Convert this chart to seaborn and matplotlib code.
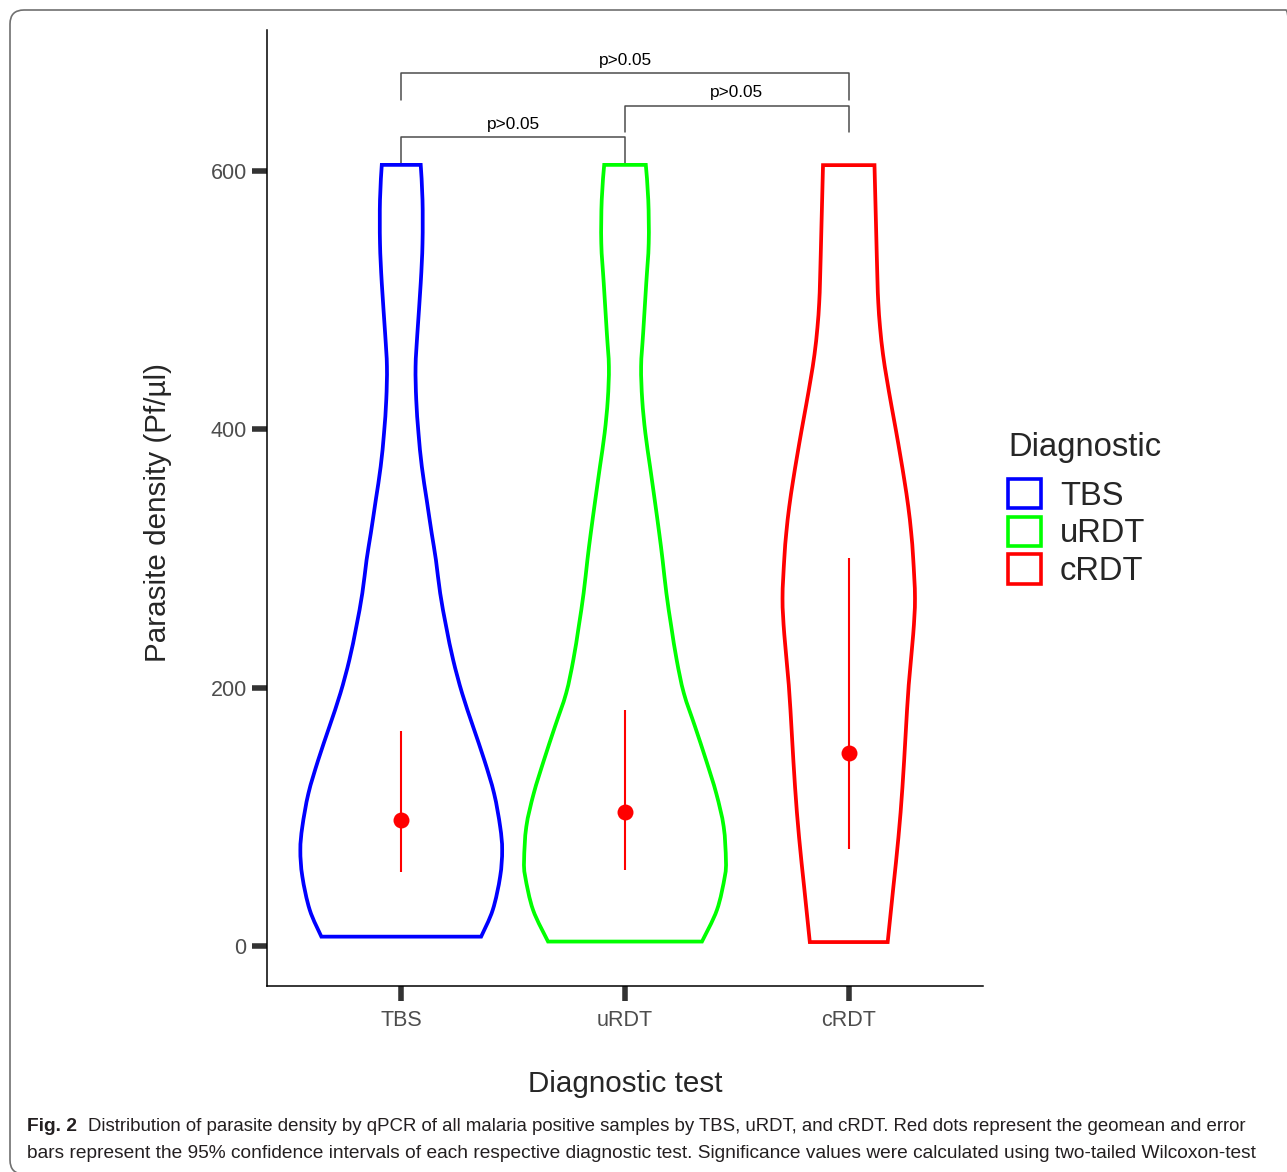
import seaborn as sns
import matplotlib.pyplot as plt
from matplotlib.patches import Patch, FancyBboxPatch, PathPatch
from matplotlib.path import Path
from matplotlib.transforms import IdentityTransform

groups = ["TBS", "uRDT", "cRDT"]
palette = {"TBS": "#0000FF", "uRDT": "#00FF00", "cRDT": "#FF0000"}

# violin outlines: parasite density and half width (category units)
tbs_y = [604.6, 577.5, 544, 513, 474, 448.5, 422.7, 397, 371, 345, 319.5, 298.8,
         273, 247, 221.4, 195.6, 169.8, 144, 118, 92.4, 74.3, 53.7, 27.9, 7.2]
tbs_w = [0.087, 0.095, 0.095, 0.087, 0.072, 0.064, 0.067, 0.077, 0.092, 0.114, 0.136, 0.155,
         0.174, 0.201, 0.232, 0.272, 0.321, 0.371, 0.415, 0.442, 0.451, 0.442, 0.409, 0.357]
urdt_y = [604.6, 577.5, 544, 513, 474, 448.5, 422.7, 397, 371, 345, 319.5, 298.8,
          273, 247, 221.4, 195.6, 169.8, 144, 118, 92.4, 66.6, 53.7, 27.9, 3.4]
urdt_w = [0.093, 0.104, 0.106, 0.095, 0.081, 0.072, 0.077, 0.091, 0.112, 0.133, 0.153, 0.168,
          0.185, 0.207, 0.231, 0.263, 0.313, 0.362, 0.408, 0.441, 0.451, 0.446, 0.411, 0.344]
crdt_y = [604.4, 557, 517, 498, 478.6, 458, 439, 419, 399, 379, 360, 340, 320, 300,
          269, 241, 202, 163, 123, 84, 45, 3]
crdt_w = [0.115, 0.122, 0.128, 0.132, 0.140, 0.153, 0.170, 0.190, 0.211, 0.231, 0.249, 0.266,
          0.279, 0.288, 0.296, 0.288, 0.268, 0.254, 0.240, 0.222, 0.199, 0.174]

# geometric mean and 95% CI
geomean = [97.5, 103.7, 149.4]
ci_low = [57.3, 58.6, 74.7]
ci_high = [166.6, 182.9, 300.4]

# significance comparisons (left group, right group, label)
comparisons = [(0, 1, "p>0.05"), (1, 2, "p>0.05"), (0, 2, "p>0.05")]
bracket_y = [626, 650.5, 675.6]
tip_bottom = [606, 630.4, 655]

W, H = 1287, 1172
sns.set_style("ticks")
plt.rcParams["font.family"] = ["Liberation Sans", "DejaVu Sans"]

fig = plt.figure(figsize=(W / 100, H / 100), dpi=100)
ax = fig.add_axes([267 / W, 1 - 986 / H, (983 - 267) / W, (986 - 30) / H])


def smooth_side(pts):
    # cubic bezier (catmull-rom) through the read outline points
    verts, codes = [], []
    n = len(pts)
    for i in range(n - 1):
        p0 = pts[max(i - 1, 0)]
        p1, p2 = pts[i], pts[i + 1]
        p3 = pts[min(i + 2, n - 1)]
        c1 = (p1[0] + (p2[0] - p0[0]) / 6, p1[1] + (p2[1] - p0[1]) / 6)
        c2 = (p2[0] - (p3[0] - p1[0]) / 6, p2[1] - (p3[1] - p1[1]) / 6)
        verts += [c1, c2, p2]
        codes += [Path.CURVE4] * 3
    return verts, codes


profiles = {"TBS": (tbs_y, tbs_w), "uRDT": (urdt_y, urdt_w), "cRDT": (crdt_y, crdt_w)}
for i, g in enumerate(groups):
    ys, ws = profiles[g]
    left = [(i - w, y) for y, w in zip(ys, ws)]
    right = [(i + w, y) for y, w in reversed(list(zip(ys, ws)))]
    verts, codes = [left[0]], [Path.MOVETO]
    v, c = smooth_side(left)
    verts += v
    codes += c
    verts.append(right[0])
    codes.append(Path.LINETO)
    v, c = smooth_side(right)
    verts += v
    codes += c
    verts.append(left[0])
    codes.append(Path.CLOSEPOLY)
    ax.add_patch(PathPatch(Path(verts, codes), fill=False, edgecolor=palette[g],
                           lw=2.7, joinstyle="miter", zorder=3))

ax.vlines(range(3), ci_low, ci_high, color="#FF0000", lw=1.5, zorder=4)
sns.scatterplot(x=list(range(3)), y=geomean, color="#FF0000", s=132, linewidth=0,
                zorder=5, legend=False, ax=ax)

for (a, b, lab), yb, yt in zip(comparisons, bracket_y, tip_bottom):
    ax.plot([a, a, b, b], [yt, yb, yb, yt], color="#4D4D4D", lw=1.1, clip_on=False)
    ax.text((a + b) / 2, yb + 6.4, lab, ha="center", va="baseline", fontsize=12.4,
            color="black")

ax.set_xlim(-0.6, 2.6)
ax.set_ylim(-31, 709)
ax.set_xticks(range(3))
ax.set_xticklabels(groups)
ax.set_yticks([0, 200, 400, 600])
sns.despine(ax=ax)
for s in ["left", "bottom"]:
    ax.spines[s].set_linewidth(1.1)
    ax.spines[s].set_color("black")
ax.tick_params(axis="both", length=11, width=4, color="#333333",
               labelcolor="#4D4D4D", labelsize=15.5)
ax.tick_params(axis="x", pad=6)
ax.tick_params(axis="y", pad=3.6)

ax.set_xlabel("Diagnostic test", fontsize=21.3, va="baseline")
ax.xaxis.set_label_coords(0.5, (986 - 1092) / 956)
ax.set_ylabel("Parasite density (Pf/µl)", fontsize=21.3)
ax.yaxis.set_label_coords((172 - 267) / 716, (986 - 512) / 956)

# legend: title as its own text, keys below
fig.text(1008 / W, 1 - 447 / H, "Diagnostic", fontsize=23.6, ha="left", va="center")
handles = [Patch(facecolor="white", edgecolor=palette[g], linewidth=2.6, label=g)
           for g in groups]
fig.legend(handles=handles, loc="center left",
           bbox_to_anchor=(1008 / W, 1 - 533 / H), frameon=False,
           fontsize=23.6, handlelength=1.02, handleheight=1.0,
           handletextpad=0.57, labelspacing=0.15, borderpad=0, borderaxespad=0)

# figure border and caption
border = FancyBboxPatch((10, -2), 1290, 1164, boxstyle="round,pad=0,rounding_size=14",
                        transform=IdentityTransform(), fill=False,
                        edgecolor="#707070", lw=1.2)
fig.add_artist(border)

cap_font = ["Liberation Sans Narrow", "Liberation Sans"]
line1 = ("Distribution of parasite density by qPCR of all malaria positive samples by TBS, "
         "uRDT, and cRDT. Red dots represent the geomean and error")
line2 = ("bars represent the 95% confidence intervals of each respective diagnostic test. "
         "Significance values were calculated using two-tailed Wilcoxon-test")
r = fig.canvas.get_renderer()
t2 = fig.text(27 / W, 1 - 1158 / H, line2, fontsize=13, family=cap_font,
              va="baseline", color="#231F20")
fs = 13 * (1257 - 27) / t2.get_window_extent(r).width
t2.set_fontsize(fs)
t0 = fig.text(27 / W, 1 - 1131 / H, "Fig. 2", fontsize=fs, family=cap_font,
              weight="bold", va="baseline", color="#231F20")
t1 = fig.text(88 / W, 1 - 1131 / H, line1, fontsize=fs, family=cap_font,
              va="baseline", color="#231F20")
t1.set_fontsize(fs * (1253 - 88) / t1.get_window_extent(r).width)

fig.savefig("out.png", dpi=100)
